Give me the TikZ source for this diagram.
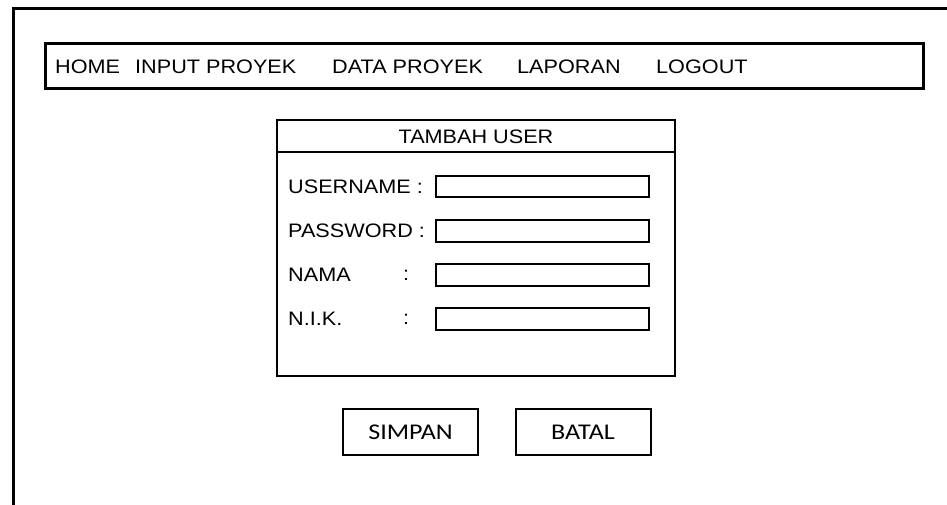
\documentclass[tikz,border=0pt]{standalone}
\usepackage{fontspec}
\newfontfamily\uifont[FakeStretch=1.11]{Liberation Sans}
\newfontfamily\btnfont[FakeStretch=1.16]{Carlito}
\begin{document}
\begin{tikzpicture}[x=1pt,y=-1pt,
  frame/.style={draw=black,line width=3pt},
  panel/.style={draw=black,line width=2pt},
  field/.style={draw=black,line width=2.2pt},
  label/.style={inner sep=0pt,anchor=west,font=\uifont\fontsize{19.5}{22}\selectfont},
  menuitem/.style={inner sep=0pt,anchor=west,font=\uifont\fontsize{19.5}{22}\selectfont},
  button/.style={draw=black,line width=2pt,minimum width=135pt,minimum height=46pt,
    inner sep=0pt,font=\btnfont\fontsize{22.5}{25}\selectfont}]
\useasboundingbox (0,0) rectangle (947,505);
\fill[white] (0,0) rectangle (947,505);

% page frame (open at right and bottom)
\draw[frame] (13,505) -- (13,9) -- (947,9);

% menu bar
\draw[frame] (45,44) rectangle (923,89);
\node[menuitem] (home)   at (55,66.5)  {HOME};
\node[menuitem] (input)  at (135,66.5) {INPUT PROYEK};
\node[menuitem] (data)   at (332,66.5) {DATA PROYEK};
\node[menuitem] (lap)    at (517,66.5) {LAPORAN};
\node[menuitem] (logout) at (656,66.5) {LOGOUT};

% form panel
\draw[panel] (277,120) rectangle (675,376);
\draw[panel] (277,152) -- (675,152);
\node[inner sep=0pt,font=\uifont\fontsize{19.5}{22}\selectfont] (title) at (476,137) {TAMBAH USER};

% fields
\draw[field] (436,176) rectangle (649,197);
\draw[field] (436,220) rectangle (649,242);
\draw[field] (436,264) rectangle (649,286);
\draw[field] (436,308) rectangle (649,330);

\node[label] (user) at (288,186.5) {USERNAME :};
\node[label] (pass) at (288,231)   {PASSWORD :};
\node[label] (nama) at (288,275)   {NAMA};
\node[label] (nik)  at (288,319)   {N.I.K.};
\node[label] (c3)   at (403,275)   {:};
\node[label] (c4)   at (403,319)   {:};

% buttons
\node[button] (simpan) at (410.5,432) {SIMPAN};
\node[button] (batal)  at (583,432)   {BATAL};
\end{tikzpicture}
\end{document}
